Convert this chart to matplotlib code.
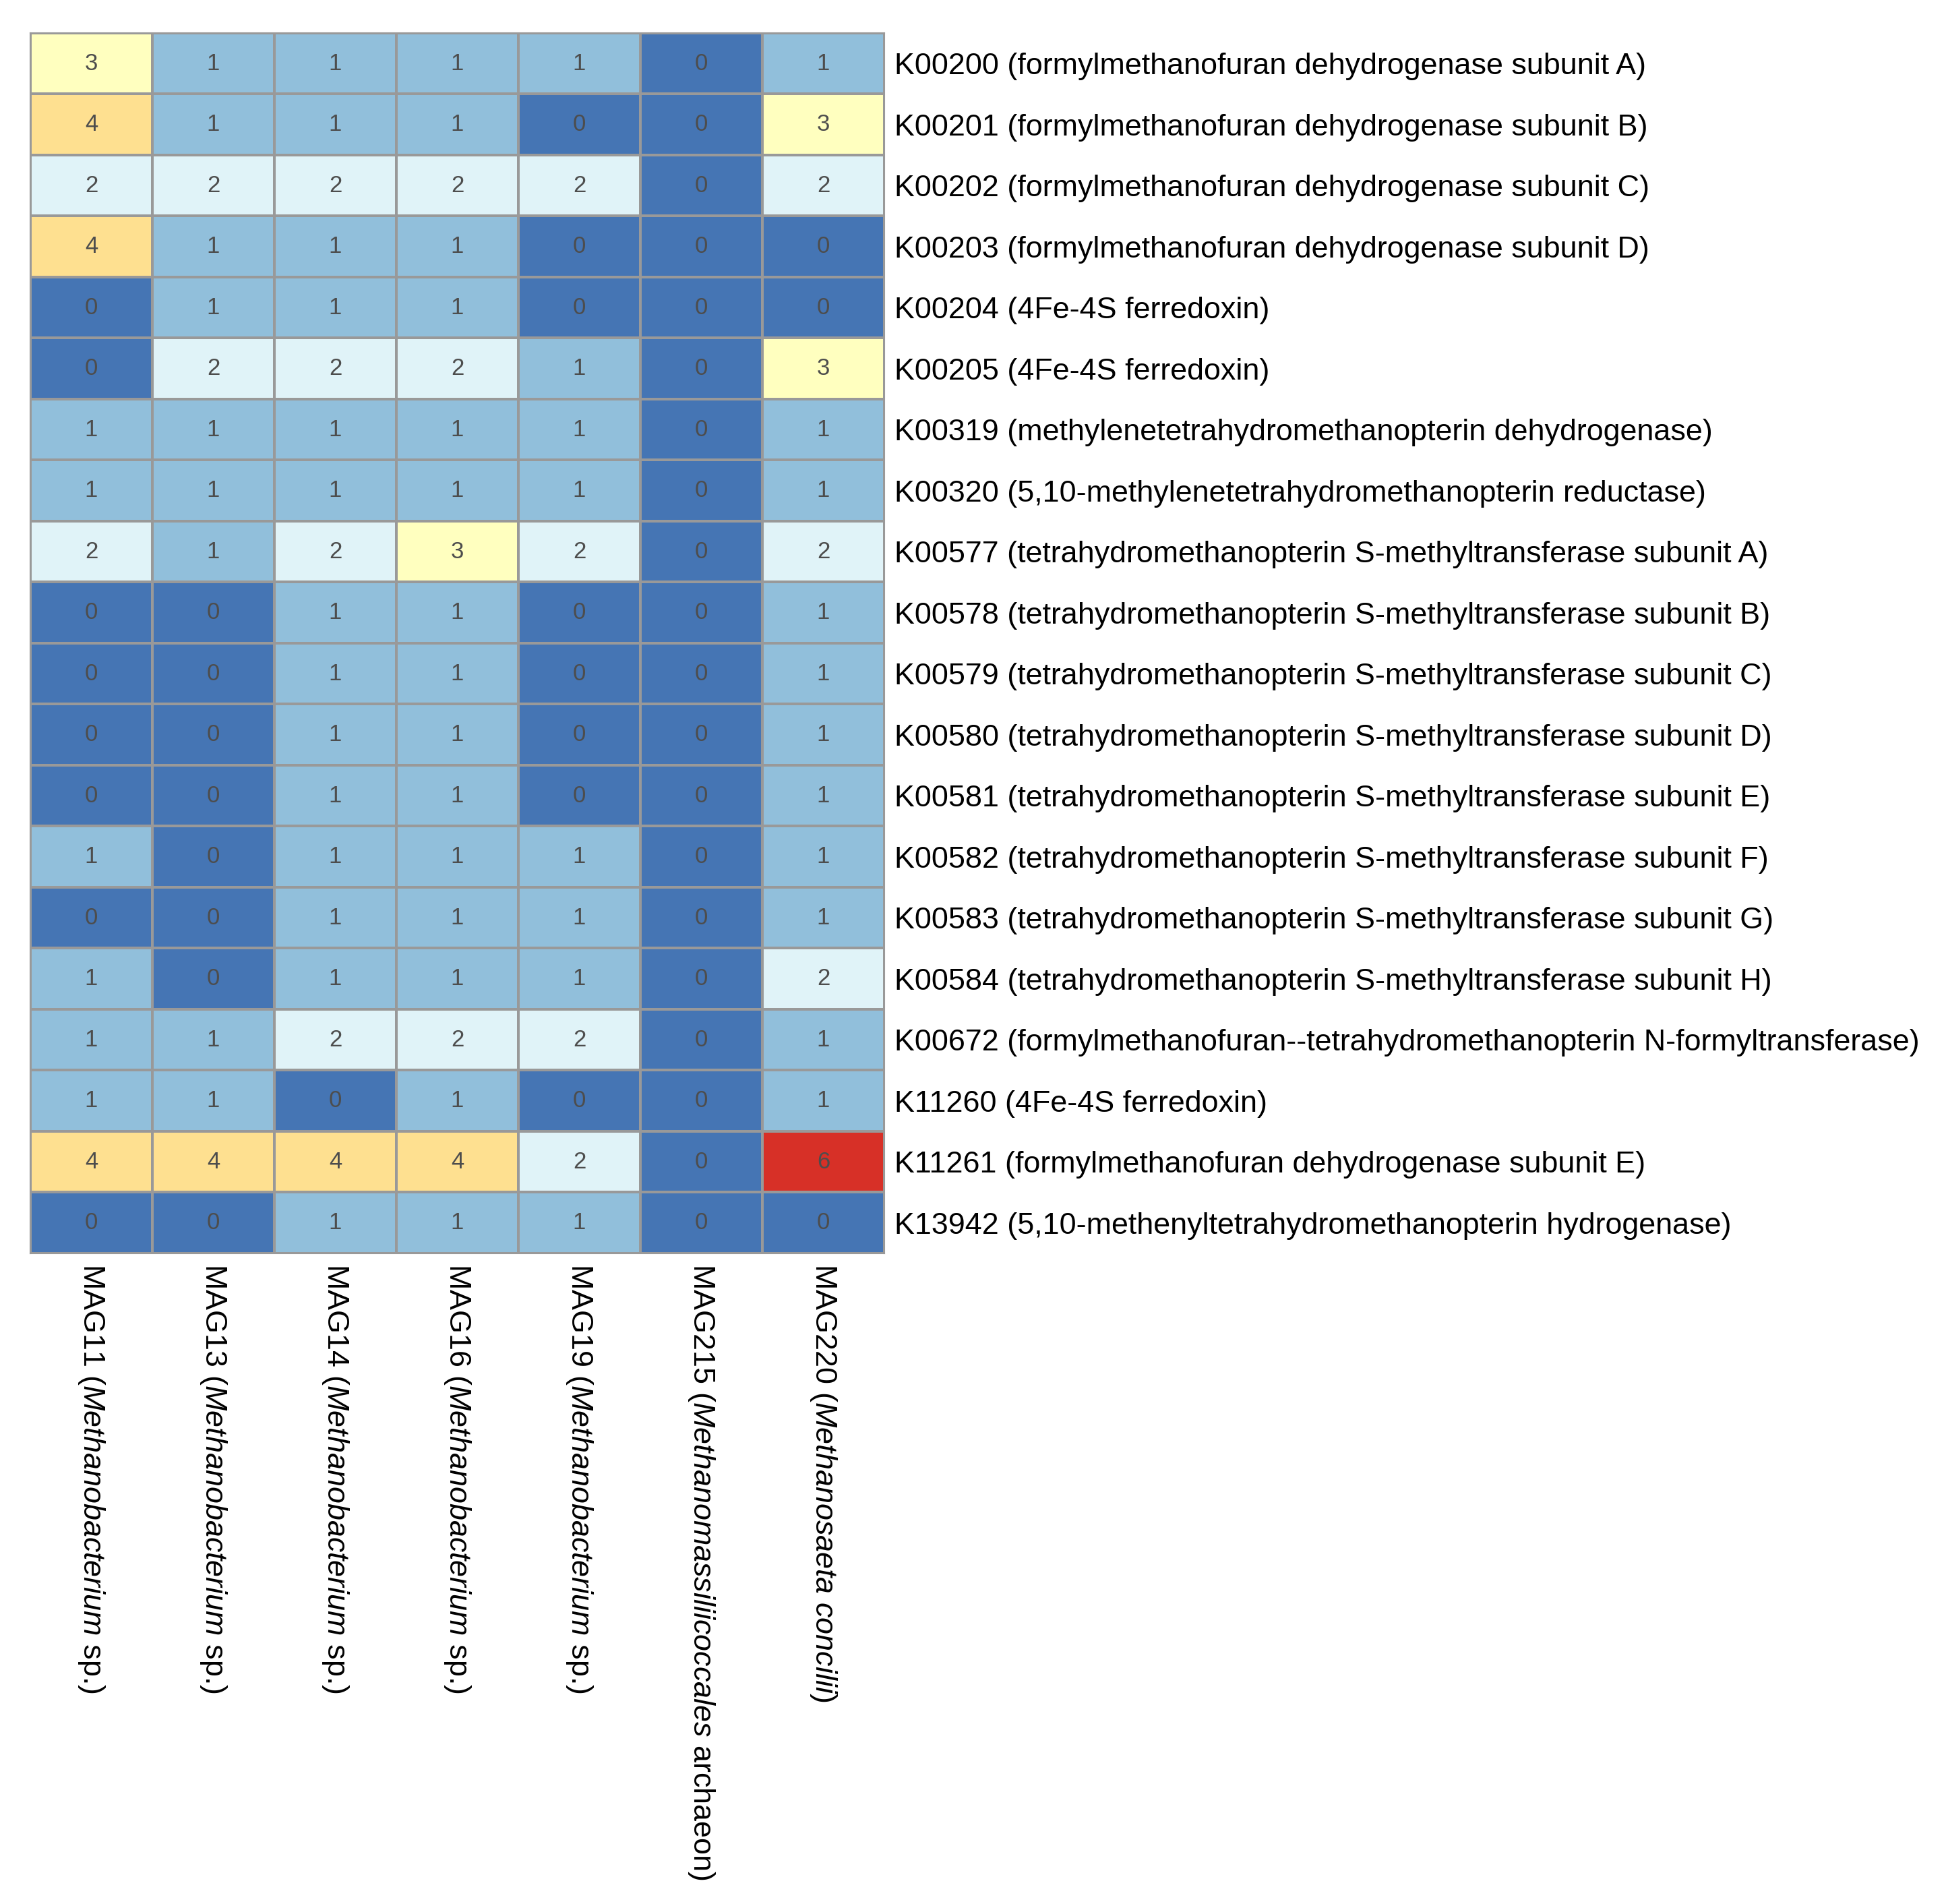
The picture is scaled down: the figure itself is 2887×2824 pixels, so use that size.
import numpy as np
import matplotlib
matplotlib.use("Agg")
import matplotlib.pyplot as plt
from matplotlib.colors import ListedColormap, BoundaryNorm
from matplotlib.transforms import ScaledTranslation

plt.rcParams['font.family'] = ['Liberation Sans', 'DejaVu Sans']
plt.rcParams['mathtext.fontset'] = 'custom'
plt.rcParams['mathtext.rm'] = 'Liberation Sans'
plt.rcParams['mathtext.it'] = 'Liberation Sans:italic'

mags = ['MAG11', 'MAG13', 'MAG14', 'MAG16', 'MAG19', 'MAG215', 'MAG220']
taxa = ['Methanobacterium', 'Methanobacterium', 'Methanobacterium', 'Methanobacterium',
        'Methanobacterium', 'Methanomassiliicoccales', 'Methanosaeta\\ concilii']
taxa_suffix = [' sp.', ' sp.', ' sp.', ' sp.', ' sp.', ' archaeon', '']

kos = ['K00200 (formylmethanofuran dehydrogenase subunit A)',
       'K00201 (formylmethanofuran dehydrogenase subunit B)',
       'K00202 (formylmethanofuran dehydrogenase subunit C)',
       'K00203 (formylmethanofuran dehydrogenase subunit D)',
       'K00204 (4Fe-4S ferredoxin)',
       'K00205 (4Fe-4S ferredoxin)',
       'K00319 (methylenetetrahydromethanopterin dehydrogenase)',
       'K00320 (5,10-methylenetetrahydromethanopterin reductase)',
       'K00577 (tetrahydromethanopterin S-methyltransferase subunit A)',
       'K00578 (tetrahydromethanopterin S-methyltransferase subunit B)',
       'K00579 (tetrahydromethanopterin S-methyltransferase subunit C)',
       'K00580 (tetrahydromethanopterin S-methyltransferase subunit D)',
       'K00581 (tetrahydromethanopterin S-methyltransferase subunit E)',
       'K00582 (tetrahydromethanopterin S-methyltransferase subunit F)',
       'K00583 (tetrahydromethanopterin S-methyltransferase subunit G)',
       'K00584 (tetrahydromethanopterin S-methyltransferase subunit H)',
       'K00672 (formylmethanofuran--tetrahydromethanopterin N-formyltransferase)',
       'K11260 (4Fe-4S ferredoxin)',
       'K11261 (formylmethanofuran dehydrogenase subunit E)',
       'K13942 (5,10-methenyltetrahydromethanopterin hydrogenase)']

# gene counts, one row per KO, columns in the order of mags
counts = np.array([
    [3, 1, 1, 1, 1, 0, 1],
    [4, 1, 1, 1, 0, 0, 3],
    [2, 2, 2, 2, 2, 0, 2],
    [4, 1, 1, 1, 0, 0, 0],
    [0, 1, 1, 1, 0, 0, 0],
    [0, 2, 2, 2, 1, 0, 3],
    [1, 1, 1, 1, 1, 0, 1],
    [1, 1, 1, 1, 1, 0, 1],
    [2, 1, 2, 3, 2, 0, 2],
    [0, 0, 1, 1, 0, 0, 1],
    [0, 0, 1, 1, 0, 0, 1],
    [0, 0, 1, 1, 0, 0, 1],
    [0, 0, 1, 1, 0, 0, 1],
    [1, 0, 1, 1, 1, 0, 1],
    [0, 0, 1, 1, 1, 0, 1],
    [1, 0, 1, 1, 1, 0, 2],
    [1, 1, 2, 2, 2, 0, 1],
    [1, 1, 0, 1, 0, 0, 1],
    [4, 4, 4, 4, 2, 0, 6],
    [0, 0, 1, 1, 1, 0, 0],
])

# RdYlBu, 7 classes, reversed so 0 is blue and 6 is red
cmap = ListedColormap(['#4575b4', '#91bfdb', '#e0f3f8', '#ffffbf',
                       '#fee090', '#fc8d59', '#d73027'])
norm = BoundaryNorm(np.arange(-0.5, 7.5, 1), cmap.N)

fig = plt.figure(figsize=(28.87, 28.24), dpi=100)
ax = fig.add_axes([0.01559, 0.34172, 0.43886, 0.64093])

ax.pcolormesh(counts, cmap=cmap, norm=norm, edgecolors='#999999', linewidth=1.5)
ax.set_xlim(0, counts.shape[1])
ax.set_ylim(counts.shape[0], 0)

for i in range(counts.shape[0]):
    for j in range(counts.shape[1]):
        ax.text(j + 0.5, i + 0.5, str(counts[i, j]), ha='center', va='center',
                fontsize=25, color='#4d4d4d')

for s in ax.spines.values():
    s.set_edgecolor('#999999')
    s.set_linewidth(1.5)

ax.yaxis.tick_right()
ax.set_yticks(np.arange(len(kos)) + 0.5)
ax.set_yticklabels(kos, fontsize=32.3)
# nudge row labels down a touch
shift = ScaledTranslation(0, -4 / 100, fig.dpi_scale_trans)
for lab in ax.get_yticklabels():
    lab.set_transform(lab.get_transform() + shift)
ax.set_xticks(np.arange(len(mags)) + 0.5)
col_labels = [m + ' ($\\mathit{' + t + '}$' + s + ')' for m, t, s in zip(mags, taxa, taxa_suffix)]
ax.set_xticklabels(col_labels, fontsize=32.3, rotation=270, ha='center', va='top')
ax.tick_params(length=0, pad=11)

plt.savefig('out.png', dpi=100)
